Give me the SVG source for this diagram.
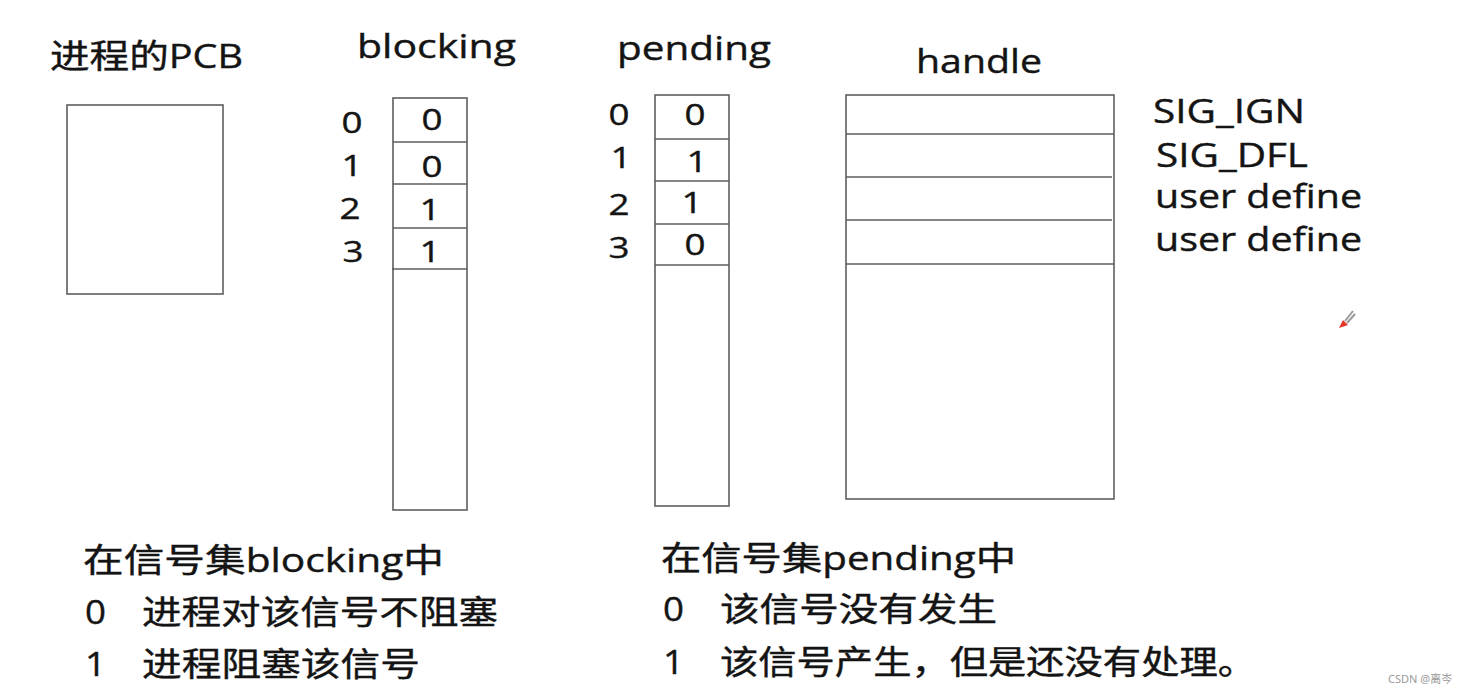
<svg xmlns="http://www.w3.org/2000/svg" width="1471" height="695" viewBox="0 0 1471 695">
<style>
.box{fill:none;stroke:#5e5e5e;stroke-width:1.6}
.ln{stroke:#5e5e5e;stroke-width:1.6}
.t{font-family:"Open Sans","Noto Sans CJK SC",sans-serif;font-size:33px;fill:#141414;stroke:#141414;stroke-width:0.4}
.d{font-family:"Open Sans","Noto Sans CJK SC",sans-serif;font-size:30px;fill:#141414;stroke:#141414;stroke-width:0.4;text-anchor:middle}
.wm{font-family:"Noto Sans","Noto Sans CJK SC",sans-serif;font-size:11px;fill:#9a9a9a}
</style>
<rect width="1471" height="695" fill="#ffffff"/>

<g id="pcb">
<text class="t" x="50" y="68" textLength="193" lengthAdjust="spacingAndGlyphs">进程的PCB</text>
<rect class="box" x="67" y="105" width="156" height="189"/>
</g>

<g id="blocking">
<text class="t" x="357" y="58" textLength="159" lengthAdjust="spacingAndGlyphs">blocking</text>
<rect class="box" x="393" y="98" width="74" height="412"/>
<line class="ln" x1="393" y1="142" x2="467" y2="142"/>
<line class="ln" x1="393" y1="184" x2="467" y2="184"/>
<line class="ln" x1="393" y1="228" x2="467" y2="228"/>
<line class="ln" x1="392" y1="269" x2="467" y2="269"/>
<text class="d" x="352" y="133" textLength="21" lengthAdjust="spacingAndGlyphs">0</text>
<text class="d" x="352" y="176" textLength="21" lengthAdjust="spacingAndGlyphs">1</text>
<text class="d" x="350" y="219" textLength="21" lengthAdjust="spacingAndGlyphs">2</text>
<text class="d" x="353" y="262" textLength="21" lengthAdjust="spacingAndGlyphs">3</text>
<text class="d" x="432" y="130" textLength="21" lengthAdjust="spacingAndGlyphs">0</text>
<text class="d" x="432" y="177" textLength="21" lengthAdjust="spacingAndGlyphs">0</text>
<text class="d" x="430" y="220" textLength="21" lengthAdjust="spacingAndGlyphs">1</text>
<text class="d" x="430" y="262" textLength="21" lengthAdjust="spacingAndGlyphs">1</text>
</g>

<g id="pending">
<text class="t" x="617" y="60" textLength="154" lengthAdjust="spacingAndGlyphs">pending</text>
<rect class="box" x="655" y="95" width="74" height="411"/>
<line class="ln" x1="655" y1="139" x2="729" y2="139"/>
<line class="ln" x1="655" y1="181" x2="729" y2="181"/>
<line class="ln" x1="655" y1="224" x2="729" y2="224"/>
<line class="ln" x1="655" y1="265" x2="729" y2="265"/>
<text class="d" x="619" y="125" textLength="21" lengthAdjust="spacingAndGlyphs">0</text>
<text class="d" x="621" y="168" textLength="21" lengthAdjust="spacingAndGlyphs">1</text>
<text class="d" x="619" y="215" textLength="21" lengthAdjust="spacingAndGlyphs">2</text>
<text class="d" x="619" y="258" textLength="21" lengthAdjust="spacingAndGlyphs">3</text>
<text class="d" x="695" y="125" textLength="21" lengthAdjust="spacingAndGlyphs">0</text>
<text class="d" x="697" y="172" textLength="21" lengthAdjust="spacingAndGlyphs">1</text>
<text class="d" x="692" y="213" textLength="21" lengthAdjust="spacingAndGlyphs">1</text>
<text class="d" x="695" y="255" textLength="21" lengthAdjust="spacingAndGlyphs">0</text>
</g>

<g id="handle">
<text class="t" x="916" y="73" textLength="126" lengthAdjust="spacingAndGlyphs">handle</text>
<rect class="box" x="846" y="95" width="268" height="404"/>
<line class="ln" x1="846" y1="134" x2="1114" y2="134"/>
<line class="ln" x1="846" y1="177" x2="1112" y2="177"/>
<line class="ln" x1="846" y1="220" x2="1112" y2="220"/>
<line class="ln" x1="846" y1="264" x2="1114" y2="264"/>
<text class="t" x="1153" y="123" textLength="152" lengthAdjust="spacingAndGlyphs">SIG_IGN</text>
<text class="t" x="1156" y="167" textLength="152" lengthAdjust="spacingAndGlyphs">SIG_DFL</text>
<text class="t" x="1155" y="208" textLength="207" lengthAdjust="spacingAndGlyphs">user define</text>
<text class="t" x="1155" y="251" textLength="207" lengthAdjust="spacingAndGlyphs">user define</text>
</g>

<g id="legend-blocking">
<text class="t" x="83" y="572" textLength="361" lengthAdjust="spacingAndGlyphs">在信号集blocking中</text>
<text class="t" x="85" y="624" textLength="21" lengthAdjust="spacingAndGlyphs">0</text>
<text class="t" x="142" y="624" textLength="356" lengthAdjust="spacingAndGlyphs">进程对该信号不阻塞</text>
<text class="t" x="85" y="676" textLength="21" lengthAdjust="spacingAndGlyphs">1</text>
<text class="t" x="142" y="676" textLength="278" lengthAdjust="spacingAndGlyphs">进程阻塞该信号</text>
</g>

<g id="legend-pending">
<text class="t" x="661" y="570" textLength="355" lengthAdjust="spacingAndGlyphs">在信号集pending中</text>
<text class="t" x="663" y="621" textLength="21" lengthAdjust="spacingAndGlyphs">0</text>
<text class="t" x="720" y="621" textLength="277" lengthAdjust="spacingAndGlyphs">该信号没有发生</text>
<text class="t" x="663" y="674" textLength="21" lengthAdjust="spacingAndGlyphs">1</text>
<text class="t" x="720" y="674" textLength="536" lengthAdjust="spacingAndGlyphs">该信号产生，但是还没有处理。</text>
</g>

<g id="connectors"></g>

<g id="cursor">
<line x1="1353" y1="311" x2="1345" y2="321" stroke="#9a9a9a" stroke-width="2"/>
<line x1="1355" y1="314" x2="1347" y2="323" stroke="#9a9a9a" stroke-width="2"/>
<polygon points="1343,320 1348,325 1339,328" fill="#e8352a"/>
</g>

<text class="wm" x="1388" y="683">CSDN @离岑</text>
</svg>
